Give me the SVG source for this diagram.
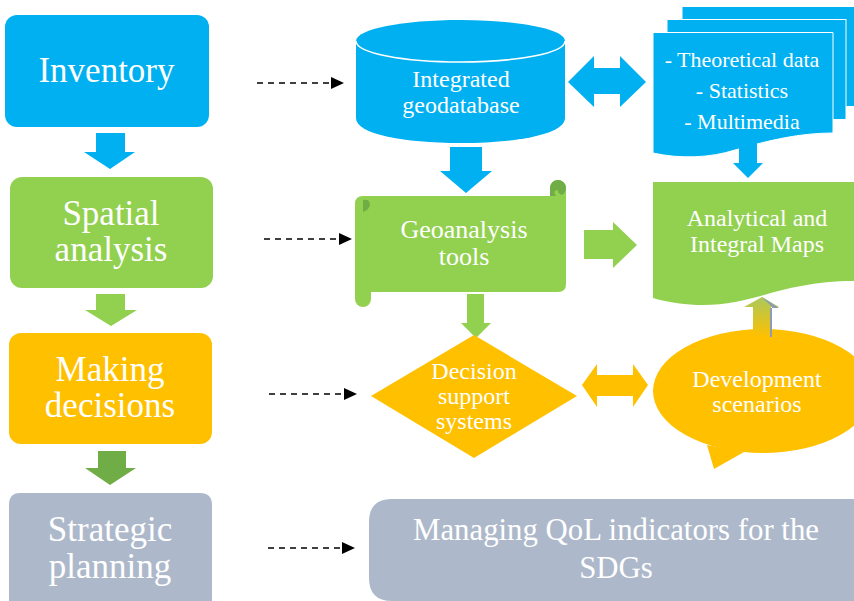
<svg xmlns="http://www.w3.org/2000/svg" width="854" height="601" viewBox="0 0 854 601">
<defs>
<marker id="ah" markerUnits="userSpaceOnUse" markerWidth="13" markerHeight="12" refX="12" refY="6" orient="auto"><path d="M0 0L13 6L0 12Z" fill="#000"/></marker>
<linearGradient id="g" x1="0" y1="0" x2="0" y2="1"><stop offset="0" stop-color="#a9c95c"/><stop offset="1" stop-color="#ffc000"/></linearGradient>
</defs>
<style>
text{font-family:"Liberation Serif","Times New Roman",serif;fill:#fff;text-anchor:middle}
.b{fill:#00b0f0}.g{fill:#92d050}.o{fill:#ffc000}.s{fill:#adb9ca}
.t1{font-size:35px}.t2{font-size:24px}.t3{font-size:24px}.t5{font-size:22px}.t6{font-size:26px}.t4{font-size:30.800px}
.d{stroke:#000;stroke-width:1.500;stroke-dasharray:6 5;fill:none;marker-end:url(#ah)}
.w{stroke:#fff;stroke-width:1}
</style>
<g id="data-sources">
<rect class="b w" x="682" y="6.500" width="173" height="100"/>
<rect class="b w" x="667" y="19.500" width="179" height="100"/>
<path class="b w" d="M653 32.500H833V133C800 133 770 140 735 150C710 158 680 159 653 153Z"/>
<text class="t5" x="742" y="67">- Theoretical data</text><text class="t5" x="742" y="98">- Statistics</text><text class="t5" x="742" y="129">- Multimedia</text>
</g>
<g id="connectors">
<path class="d" d="M257 83H343"/>
<path class="d" d="M264 239H351"/>
<path class="d" d="M269 394H356"/>
<path class="d" d="M268 548H354"/>
<path class="b" d="M96 133H125V152H135L110 169L84 152H96Z"/>
<path class="g" d="M96 294H125V310H137L111 326L85 310H96Z"/>
<path d="M98 451H126V468H136L110 485L85 468H98Z" fill="#70ad47"/>
<path class="b" d="M450 147H482V171H492L466 193L440 171H450Z"/>
<path class="g" d="M467 294H484V323H491L476 338L461 323H467Z"/>
<path class="g" d="M584 230H613V222L637 245L613 268V259H584Z"/>
<path class="b" d="M568 82L594 56V68H620V56L646 82L620 107V94H594V107Z"/>
<path class="o" d="M582 385L597 364V375H633V364L648 385L633 407V396H597V407Z"/>
<path class="b" d="M739 140H757V163H763L748 178L733 163H739Z"/>
</g>
<g id="inventory"><rect class="b" x="5" y="15" width="204" height="112" rx="12"/><text class="t1" x="106.500" y="82">Inventory</text></g>
<g id="spatial-analysis"><rect class="g" x="10" y="177" width="203" height="111" rx="12"/><text class="t1" x="111" y="225">Spatial</text><text class="t1" x="111" y="261">analysis</text></g>
<g id="making-decisions"><rect class="o" x="9" y="333" width="203" height="111" rx="12"/><text class="t1" x="110" y="381">Making</text><text class="t1" x="110" y="417">decisions</text></g>
<g id="strategic-planning"><path class="s" d="M20 493H200Q212 493 212 505V601H9V505Q9 493 20 493Z"/><text class="t1" x="110" y="541">Strategic</text><text class="t1" x="110" y="578">planning</text></g>
<g id="integrated-geodatabase"><path class="b" d="M356 41C356 29 403 20 460.500 20S565 29 565 41V118C565 134 518 143 460.500 143S356 134 356 118Z"/><path d="M356 41C356 53 403 62 460.500 62S565 53 565 41" fill="none" stroke="#fff" stroke-width="1.500"/><text class="t2" x="461" y="87">Integrated</text><text class="t2" x="461" y="113">geodatabase</text></g>
<g id="geoanalysis-tools"><path class="g" d="M355 204Q355 196 363 196H550V188A8 8 0 0 1 566 188V284Q566 292 558 292H371V299A8 8 0 0 1 355 299Z"/><path d="M550 196V188A8 8 0 1 1 562 195Q557 193 558 190Q552 190 556 196Z" fill="#70ad47"/><path d="M363 200Q370 199 370 205Q369 210 363 212Z" fill="#70ad47"/><text class="t6" x="464" y="238">Geoanalysis</text><text class="t6" x="464" y="265">tools</text></g>
<g id="maps"><path class="g" d="M653 182H854V281C800 281 770 295 735 302C710 307 680 306 653 298Z"/><text class="t3" x="757" y="226">Analytical and</text><text class="t3" x="757" y="252">Integral Maps</text></g>
<g id="decision-support"><path class="o" d="M474 335L577 396L474 458L371 396Z"/><text class="t3" x="474" y="379">Decision</text><text class="t3" x="474" y="404">support</text><text class="t3" x="474" y="429">systems</text></g>
<g id="development-scenarios"><ellipse class="o" cx="763" cy="391" rx="110" ry="62"/><path class="o" d="M707 445L714 469L744 452Z"/><path d="M753 337V307H744L762 297L779 307H771V337Z" fill="url(#g)"/><path d="M770 308H779L762 297L772 307V337H770Z" fill="#8e9bb5"/><text class="t3" x="757" y="387">Development</text><text class="t3" x="757" y="412">scenarios</text></g>
<g id="managing-qol"><path class="s" d="M392 499H854V601H392Q369 601 369 578V522Q369 499 392 499Z"/><text class="t4" x="616" y="540">Managing QoL indicators for the</text><text class="t4" x="616" y="578">SDGs</text></g>
</svg>
